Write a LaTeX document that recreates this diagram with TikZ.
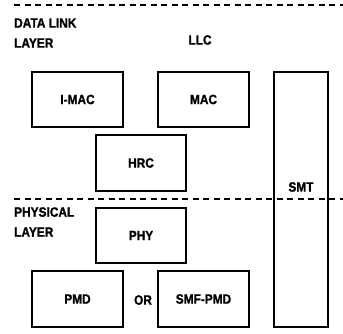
\documentclass[tikz,border=0pt]{standalone}
\usepackage{fontspec}
\setmainfont{Liberation Sans}[FakeStretch=0.88, BoldFeatures={FakeBold=1.2}]
\begin{document}
\begin{tikzpicture}[x=1pt,y=-1pt,
  every node/.style={font=\bfseries\fontsize{13.5}{15}\selectfont, inner sep=0pt},
  block/.style={draw, line width=1.7pt, rectangle},
  layerline/.style={line width=1.1pt, dash pattern=on 6pt off 4.5pt},
  layertext/.style={align=left, anchor=west, font=\bfseries\fontsize{13.5}{20}\selectfont}]
\useasboundingbox (0,0) rectangle (343,333);

% layer boundaries
\coordinate (topL) at (14,5);   \coordinate (topR) at (343,5);
\coordinate (midL) at (14,199); \coordinate (midR) at (343,199);
\draw[layerline] (topL) -- (topR);
\draw[layerline] (midL) -- (midR);

% layer names
\node[layertext] (dll) at (14,33) {DATA LINK\\LAYER};
\node[layertext] (phl) at (14,222) {PHYSICAL\\LAYER};
\node (llc) at (200,40) {LLC};

% protocol blocks
\node[block, minimum width=91pt, minimum height=55pt] (imac) at (77.5,99.5) {I-MAC};
\node[block, minimum width=91pt, minimum height=55pt] (mac) at (203.5,99.5) {MAC};
\node[block, minimum width=90pt, minimum height=56pt] (hrc) at (141,163) {HRC};
\node[block, minimum width=90pt, minimum height=55pt] (phy) at (141,235.5) {PHY};
\node[block, minimum width=91pt, minimum height=56pt] (pmd) at (77.5,299) {PMD};
\node[block, minimum width=91pt, minimum height=56pt] (smf) at (203.5,299) {SMF-PMD};
\node (or) at (143,300) {OR};

% station management spans both layers
\node[block, minimum width=54pt, minimum height=255pt] (smt) at (301,199.5) {};
\node (smtl) at (301,187) {SMT};
\end{tikzpicture}
\end{document}
